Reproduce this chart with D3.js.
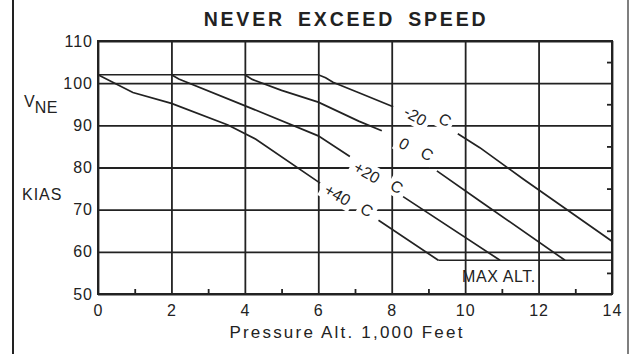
<!DOCTYPE html>
<html>
<head>
<meta charset="utf-8">
<script src="https://cdn.jsdelivr.net/npm/d3@7"></script>
<style>
  html, body { margin: 0; padding: 0; background: #fff; }
  svg { display: block; }
  text { font-family: "Liberation Sans", Arial, Helvetica, sans-serif; fill: #222; }
</style>
</head>
<body>
<svg id="chart" width="630" height="354"></svg>
<script>
// Axis ticks
const xTicks = [0, 2, 4, 6, 8, 10, 12, 14];
const xMinorTicks = [1, 3, 5, 7, 9, 11, 13];
const yTicks = [50, 60, 70, 80, 90, 100, 110];
const yMinorTicks = [55, 65, 75, 85, 95, 105];

// Never-exceed speed (KIAS) vs pressure altitude (1,000 ft), one series per OAT.
// null marks the break where the temperature label sits on the curve.
const curveMinus20 = [[0, 102], [6.0, 102], [6.2, 101.3], [6.4, 100.2], [7.14, 97.6], [8.04, 94.4],
  null, [9.8, 88.0], [10.4, 84.7], [11.59, 77.2], [14, 62.5]];
const curveZero = [[4, 102], [4.2, 100.9], [5.0, 98.3], [6.0, 95.5], [7.1, 91.0], [7.73, 88.7],
  null, [9.23, 79.2], [10.41, 72.0], [12.72, 58]];
const curvePlus20 = [[2, 102], [2.2, 101.0], [3.96, 94.8], [6.0, 87.5], [6.86, 82.6],
  null, [8.31, 73.1], [10.95, 58]];
const curvePlus40 = [[0, 102], [0.95, 97.8], [2.0, 95.2], [3.54, 90.1], [4.3, 86.7], [6.05, 76.3],
  null, [7.64, 67.5], [9.27, 58]];
const maxAltLine = [[9.27, 58], [14, 58]];

// Temperature labels: text and anchor (altitude, KIAS) for the number and the "C"
const tempNames = ["-20", "0", "+20", "+40"];
const tempNumAt = [[8.64, 92.2], [8.34, 85.6], [7.32, 78.8], [6.52, 73.5]];
const tempUnitAt = [[9.45, 91.3], [8.96, 83.2], [8.14, 75.4], [7.32, 69.9]];

const svg = d3.select("#chart");
const plotL = 98, plotR = 612, plotT = 41, plotB = 294;
const W = plotR - plotL, H = plotB - plotT;
const ink = "#222";

const x = d3.scaleLinear().domain([0, 14]).range([plotL, plotR]);
const y = d3.scaleLinear().domain([50, 110]).range([plotB, plotT]);

// Page frame (left and right rules)
svg.append("line").attr("x1", 13).attr("x2", 13).attr("y1", 0).attr("y2", 354)
  .attr("stroke", ink).attr("stroke-width", 2);
svg.append("line").attr("x1", 628).attr("x2", 628).attr("y1", 0).attr("y2", 354)
  .attr("stroke", "#555").attr("stroke-width", 1.5);

// Title
svg.append("text").attr("x", 346).attr("y", 26).attr("text-anchor", "middle")
  .style("font-size", "19.5px").style("font-weight", "bold")
  .style("letter-spacing", "2.8px").style("word-spacing", "5px")
  .text("NEVER EXCEED SPEED");

const grid = svg.append("g");

// Vertical grid + x labels
const xAxis = grid.append("g").attr("transform", `translate(0,${plotB})`)
  .call(d3.axisBottom(x).tickValues(xTicks).tickSize(-H).tickSizeOuter(0).tickPadding(7));
xAxis.select(".domain").remove();
xAxis.selectAll(".tick line").attr("stroke", ink).attr("stroke-width", 1.8);
xAxis.selectAll(".tick text").style("font-size", "16px").style("letter-spacing", "1px")
  .attr("dy", "0.95em").attr("fill", ink);

// Minor x ticks
const xMinor = grid.append("g").attr("transform", `translate(0,${plotB})`)
  .call(d3.axisBottom(x).tickValues(xMinorTicks).tickSize(-5).tickFormat(""));
xMinor.select(".domain").remove();
xMinor.selectAll(".tick line").attr("stroke", ink).attr("stroke-width", 1.8);

// Horizontal grid + y labels
const yAxis = grid.append("g").attr("transform", `translate(${plotL},0)`)
  .call(d3.axisLeft(y).tickValues(yTicks).tickSize(-W).tickSizeOuter(0).tickPadding(5));
yAxis.select(".domain").remove();
yAxis.selectAll(".tick line").attr("stroke", ink).attr("stroke-width", 1.8);
yAxis.selectAll(".tick text").style("font-size", "16px").style("letter-spacing", "1px").attr("fill", ink);

// Minor y ticks on the right edge
const yMinor = grid.append("g").attr("transform", `translate(${plotR},0)`)
  .call(d3.axisRight(y).tickValues(yMinorTicks).tickSize(-5).tickFormat(""));
yMinor.select(".domain").remove();
yMinor.selectAll(".tick line").attr("stroke", ink).attr("stroke-width", 1.8);

// Plot border
grid.append("rect").attr("x", plotL).attr("y", plotT).attr("width", W).attr("height", H)
  .attr("fill", "none").attr("stroke", ink).attr("stroke-width", 2);

// Label knock-outs (white boxes under the temperature labels)
const knock = svg.append("g");
const labelG = svg.append("g");
const ANG = 30;

tempNames.forEach((name, i) => {
  const [nx, nv] = tempNumAt[i];
  const [ux, uv] = tempUnitAt[i];
  const t = labelG.append("text")
    .attr("transform", `translate(${x(nx)},${y(nv)}) rotate(${ANG})`)
    .attr("text-anchor", "middle").attr("dominant-baseline", "central")
    .style("font-size", "16px").text(name);
  const len = t.node().getComputedTextLength();
  knock.append("rect")
    .attr("transform", `translate(${x(nx)},${y(nv)}) rotate(${ANG})`)
    .attr("x", -len / 2 - 4).attr("y", -10).attr("width", len + 8).attr("height", 20)
    .attr("fill", "#fff");
  labelG.append("text")
    .attr("transform", `translate(${x(ux)},${y(uv)}) rotate(${ANG})`)
    .attr("text-anchor", "middle").attr("dominant-baseline", "central")
    .style("font-size", "16px").text("C");
  knock.append("rect")
    .attr("transform", `translate(${x(ux)},${y(uv)}) rotate(${ANG})`)
    .attr("x", -9).attr("y", -10).attr("width", 18).attr("height", 20)
    .attr("fill", "#fff");
});

// Curves
const line = d3.line().defined(d => d !== null).x(d => x(d[0])).y(d => y(d[1]));
const curves = svg.append("g").attr("fill", "none").attr("stroke", ink).attr("stroke-width", 1.7);
[curveMinus20, curveZero, curvePlus20, curvePlus40, maxAltLine].forEach(c => {
  curves.append("path").attr("d", line(c));
});

labelG.raise();

// Axis titles and annotations
const vne = svg.append("text").attr("x", 24).attr("y", 107).style("font-size", "16px");
vne.append("tspan").text("V");
vne.append("tspan").attr("dy", 6).style("letter-spacing", "0.5px").text("NE");

svg.append("text").attr("x", 22).attr("y", 200).style("font-size", "16px")
  .style("letter-spacing", "1px").text("KIAS");

svg.append("text").attr("x", 347).attr("y", 338).attr("text-anchor", "middle")
  .style("font-size", "17px").style("letter-spacing", "2.2px")
  .text("Pressure Alt. 1,000 Feet");

svg.append("text").attr("x", 462).attr("y", 282).style("font-size", "16px")
  .style("letter-spacing", "0.6px").text("MAX ALT.");
</script>
</body>
</html>
